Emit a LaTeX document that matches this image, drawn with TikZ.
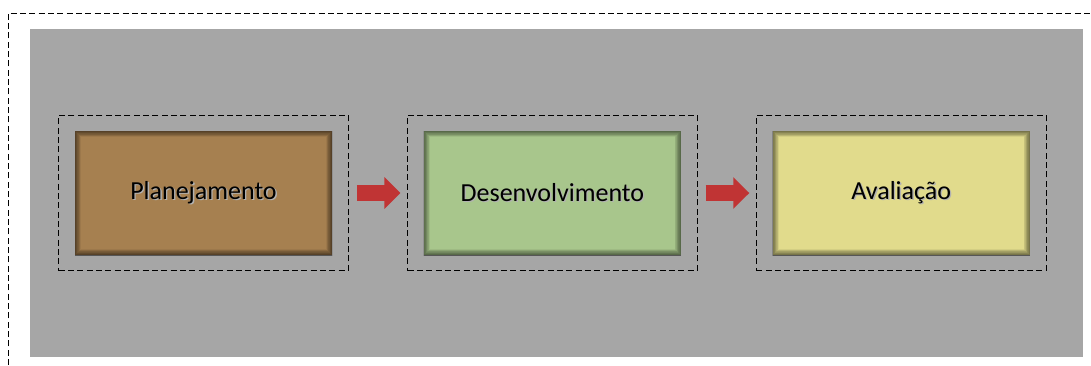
\documentclass[tikz,border=0pt]{standalone}
\usepackage{fontspec}
\setmainfont{Carlito}
\usetikzlibrary{positioning,fit,arrows.meta}

\definecolor{fundo}{RGB}{166,166,166}
\definecolor{marrom}{RGB}{166,128,80}
\definecolor{verde}{RGB}{168,198,140}
\definecolor{amarelo}{RGB}{225,219,140}
\definecolor{vermelho}{RGB}{192,52,52}

\newcommand\sombra[1]{\leavevmode\rlap{\hspace{1pt}\raisebox{-1pt}{\color{black!30}#1}}#1}

\begin{document}
\begin{tikzpicture}[x=0.75pt,y=-0.75pt,node distance=68.5pt,
                    etapa/.style={minimum width=192.75pt,minimum height=93pt,inner sep=0pt,
                      font=\fontsize{19.5}{22}\selectfont,
                      path picture={\foreach \w in {1,...,10}
                        \draw[black,opacity=.06,line width=0.9*\w pt]
                          (path picture bounding box.south west) rectangle
                          (path picture bounding box.north east);}},
                    moldura/.style={draw,line width=0.75pt,dash pattern=on 4.5pt off 2.5pt,
                      inner xsep=12pt,inner ysep=11.5pt},
                    seta/.style={-{Triangle[length=12pt,width=23pt]},line width=12pt,
                      vermelho,shorten <=6pt,shorten >=5pt}]

  \useasboundingbox (0,0) rectangle (1091,365);
  \fill[fundo] (30,29) rectangle (1083,357);
  \draw[line width=0.75pt,dash pattern=on 4.5pt off 2.5pt] (8,365) |- (1091,13);

  \node[etapa,fill=marrom]   (plan)  at (203.5,193) {\sombra{Planejamento}};
  \node[etapa,fill=verde]    (desen) [right=of plan]  {\sombra{Desenvolvimento}};
  \node[etapa,fill=amarelo]  (aval)  [right=of desen] {\sombra{Avaliação}};

  \node[moldura,fit=(plan)]  (planf)  {};
  \node[moldura,fit=(desen)] (desenf) {};
  \node[moldura,fit=(aval)]  (avalf)  {};

  \draw[seta] (planf)  -- (desenf);
  \draw[seta] (desenf) -- (avalf);
\end{tikzpicture}
\end{document}
